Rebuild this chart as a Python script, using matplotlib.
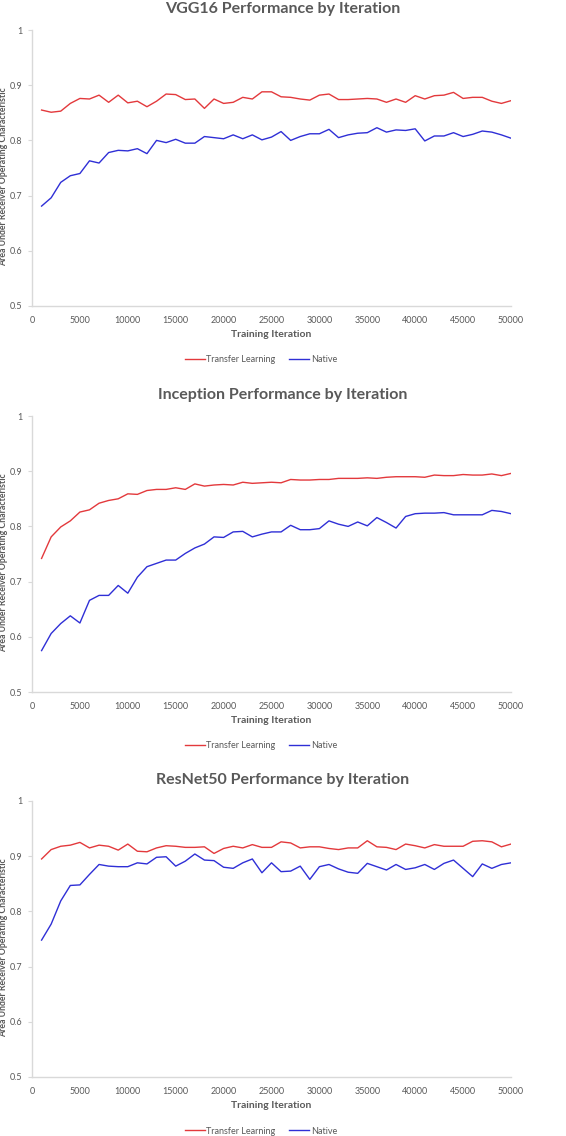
import matplotlib
matplotlib.use("Agg")
import matplotlib.pyplot as plt

plt.rcParams['font.family'] = ['Lato', 'DejaVu Sans']

iterations = list(range(1000, 50001, 1000))

vgg_transfer = [0.855, 0.851, 0.853, 0.867, 0.876, 0.875, 0.882, 0.869, 0.882, 0.868,
                0.871, 0.861, 0.871, 0.884, 0.883, 0.874, 0.875, 0.858, 0.875, 0.867,
                0.869, 0.878, 0.875, 0.888, 0.888, 0.879, 0.878, 0.875, 0.873, 0.882,
                0.884, 0.874, 0.874, 0.875, 0.876, 0.875, 0.869, 0.875, 0.869, 0.881,
                0.875, 0.881, 0.882, 0.887, 0.876, 0.878, 0.878, 0.871, 0.867, 0.872]
vgg_native = [0.681, 0.696, 0.724, 0.736, 0.740, 0.763, 0.759, 0.778, 0.782, 0.781,
              0.785, 0.776, 0.800, 0.796, 0.802, 0.795, 0.795, 0.807, 0.805, 0.803,
              0.810, 0.803, 0.810, 0.801, 0.806, 0.816, 0.800, 0.807, 0.812, 0.812,
              0.820, 0.805, 0.810, 0.813, 0.814, 0.823, 0.815, 0.819, 0.818, 0.821,
              0.799, 0.808, 0.808, 0.814, 0.807, 0.811, 0.817, 0.815, 0.810, 0.804]

inception_transfer = [0.742, 0.781, 0.799, 0.810, 0.826, 0.830, 0.842, 0.847, 0.850, 0.859,
                      0.858, 0.865, 0.867, 0.867, 0.870, 0.867, 0.877, 0.873, 0.875, 0.876,
                      0.875, 0.880, 0.878, 0.879, 0.880, 0.879, 0.885, 0.884, 0.884, 0.885,
                      0.885, 0.887, 0.887, 0.887, 0.888, 0.887, 0.889, 0.890, 0.890, 0.890,
                      0.889, 0.893, 0.892, 0.892, 0.894, 0.893, 0.893, 0.895, 0.892, 0.896]
inception_native = [0.575, 0.606, 0.624, 0.638, 0.625, 0.666, 0.675, 0.675, 0.693, 0.679,
                    0.708, 0.727, 0.733, 0.739, 0.739, 0.751, 0.761, 0.768, 0.781, 0.780,
                    0.790, 0.791, 0.781, 0.786, 0.790, 0.790, 0.802, 0.794, 0.794, 0.796,
                    0.810, 0.804, 0.800, 0.808, 0.801, 0.816, 0.807, 0.797, 0.818, 0.823,
                    0.824, 0.824, 0.825, 0.821, 0.821, 0.821, 0.821, 0.829, 0.827, 0.823]

resnet_transfer = [0.895, 0.912, 0.918, 0.920, 0.925, 0.915, 0.920, 0.918, 0.911, 0.922,
                   0.909, 0.908, 0.915, 0.919, 0.918, 0.916, 0.916, 0.917, 0.905, 0.914,
                   0.918, 0.915, 0.921, 0.916, 0.916, 0.926, 0.924, 0.915, 0.917, 0.917,
                   0.914, 0.912, 0.915, 0.915, 0.928, 0.917, 0.916, 0.912, 0.922, 0.919,
                   0.915, 0.921, 0.918, 0.918, 0.918, 0.927, 0.928, 0.926, 0.917, 0.922]
resnet_native = [0.748, 0.777, 0.819, 0.847, 0.848, 0.867, 0.885, 0.882, 0.881, 0.881,
                 0.888, 0.886, 0.898, 0.899, 0.882, 0.891, 0.904, 0.893, 0.892, 0.880,
                 0.878, 0.888, 0.895, 0.870, 0.888, 0.872, 0.873, 0.882, 0.858, 0.881,
                 0.885, 0.877, 0.871, 0.869, 0.887, 0.881, 0.875, 0.885, 0.876, 0.879,
                 0.885, 0.876, 0.887, 0.893, 0.878, 0.863, 0.886, 0.878, 0.885, 0.888]

x_ticks = list(range(0, 50001, 5000))
y_ticks = [0.5, 0.6, 0.7, 0.8, 0.9, 1.0]
y_tick_labels = ['0.5', '0.6', '0.7', '0.8', '0.9', '1']

text_grey = '#595959'
axis_grey = '#d9d9d9'
red = '#e3393c'
blue = '#2f2fd6'

W, H = 566, 1136


def panel(fig, top_px, title, transfer, native):
    # axes placed in pixel terms of the 566x1136 image
    left_px, right_px, height_px = 32, 511, 276
    ax = fig.add_axes([left_px / W, 1 - (top_px + height_px) / H,
                       (right_px - left_px) / W, height_px / H])
    ax.plot(iterations, transfer, color=red, linewidth=1.0, label='Transfer Learning')
    ax.plot(iterations, native, color=blue, linewidth=1.0, label='Native')
    ax.set_xlim(0, 50000)
    ax.set_ylim(0.5, 1.0)
    ax.set_xticks(x_ticks)
    ax.set_xticklabels([str(t) for t in x_ticks])
    ax.set_yticks(y_ticks)
    ax.set_yticklabels(y_tick_labels)
    for side in ['top', 'right']:
        ax.spines[side].set_visible(False)
    for side in ['left', 'bottom']:
        ax.spines[side].set_color(axis_grey)
        ax.spines[side].set_linewidth(1.0)
    ax.tick_params(axis='y', length=3, color=axis_grey, labelsize=6.5, labelcolor=text_grey, pad=4)
    ax.tick_params(axis='x', length=0, labelsize=6.5, labelcolor=text_grey, pad=7)
    ax.set_xlabel('Training Iteration', fontsize=7.5, fontweight='bold', color=text_grey, labelpad=4)
    ax.set_ylabel('Area Under Receiver Operating Characteristic', fontsize=6.3,
                  fontweight='bold', color=text_grey)
    ax.yaxis.set_label_coords(-24 / (right_px - left_px), 0.47)

    fig.text(0.5, 1 - (top_px - 21) / H, title, ha='center', va='center',
             fontsize=11.5, fontweight='bold', color=text_grey)

    ax.legend(loc='center', bbox_to_anchor=(261 / W, 1 - (top_px + height_px + 54) / H),
              bbox_transform=fig.transFigure, ncol=2, frameon=False, fontsize=6.5,
              handlelength=2.2, handletextpad=0.2, columnspacing=1.5,
              labelcolor=text_grey)
    return ax


fig = plt.figure(figsize=(W / 100, H / 100), dpi=100)

panel(fig, 30, 'VGG16 Performance by Iteration', vgg_transfer, vgg_native)
panel(fig, 416, 'Inception Performance by Iteration', inception_transfer, inception_native)
panel(fig, 801, 'ResNet50 Performance by Iteration', resnet_transfer, resnet_native)

plt.savefig('out.png', dpi=100, facecolor='white')
